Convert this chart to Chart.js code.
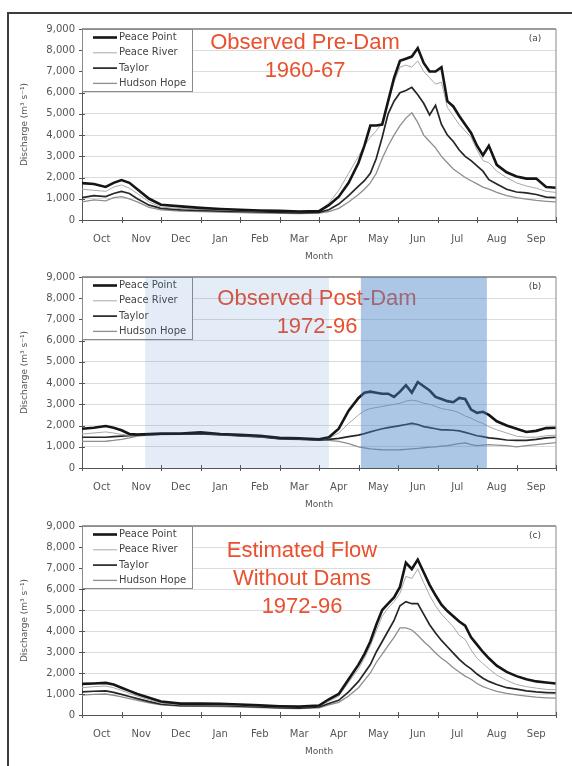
<!DOCTYPE html>
<html>
<head>
<meta charset="utf-8">
<script src="https://cdn.jsdelivr.net/npm/chart.js@4/dist/chart.umd.min.js"></script>
<style>
    body { margin: 0; background: #fff; width: 572px; height: 766px; overflow: hidden; position: relative; }
    .frame { position: absolute; left: 7px; top: 12px; width: 600px; height: 800px;
             border-top: 2px solid #3c3c3c; border-left: 2px solid #3c3c3c; }
    .panel { position: absolute; left: 0; width: 572px; }
</style>
</head>
<body>
<div class="frame"></div>
<div class="panel" style="top:0px;height:264px"><canvas id="chartA"></canvas></div>
<div class="panel" style="top:264px;height:248px"><canvas id="chartB"></canvas></div>
<div class="panel" style="top:512px;height:254px"><canvas id="chartC"></canvas></div>

<script>
// Data (x = months since 1 October)
const months = ['Oct', 'Nov', 'Dec', 'Jan', 'Feb', 'Mar', 'Apr', 'May', 'Jun', 'Jul', 'Aug', 'Sep'];
const stations = ['Peace Point', 'Peace River', 'Taylor', 'Hudson Hope'];
const yTicks = [0, 1000, 2000, 3000, 4000, 5000, 6000, 7000, 8000, 9000];

const monthPos = [0, 0.3, 0.6, 0.8, 1.0, 1.2, 1.4, 1.7, 2.0, 2.5, 3.0, 3.5, 4.0, 4.5, 5.0, 5.5, 6.0,
    6.25, 6.5, 6.75, 7.0, 7.15, 7.3, 7.45, 7.6, 7.75, 7.9, 8.05, 8.2, 8.35, 8.5, 8.65, 8.8, 8.95,
    9.1, 9.25, 9.4, 9.55, 9.7, 9.85, 10.0, 10.15, 10.3, 10.5, 10.75, 11.0, 11.25, 11.5, 11.75, 12.0];

// (a) observed pre-dam 1960-67
const preDamPeacePoint = [1740, 1700, 1560, 1750, 1880, 1750, 1450, 1000, 720, 640, 570, 520, 480, 450, 430, 400, 420,
    700, 1100, 1750, 2700, 3500, 4450, 4450, 4500, 5600, 6700, 7500, 7600, 7700, 8100, 7400, 7000, 7000,
    7200, 5600, 5350, 4900, 4500, 4100, 3500, 3050, 3500, 2600, 2250, 2050, 1950, 1950, 1550, 1520];
const preDamPeaceRiver = [1450, 1400, 1350, 1550, 1650, 1500, 1250, 850, 600, 540, 500, 470, 440, 420, 400, 380, 420,
    800, 1400, 2200, 3000, 3500, 3900, 4200, 4600, 5500, 6500, 7200, 7300, 7200, 7500, 7000, 6700, 6400,
    6500, 5300, 4900, 4500, 4200, 3900, 3300, 2800, 2700, 2300, 2000, 1750, 1600, 1500, 1350, 1300];
const preDamTaylor = [1050, 1150, 1100, 1250, 1350, 1250, 1000, 700, 550, 480, 450, 420, 400, 380, 360, 340, 360,
    480, 750, 1150, 1600, 1850, 2200, 2900, 3900, 5000, 5600, 6000, 6100, 6250, 5900, 5500, 4950, 5400,
    4500, 4000, 3700, 3300, 3000, 2800, 2550, 2300, 1900, 1700, 1450, 1320, 1280, 1200, 1080, 1050];
const preDamHudsonHope = [850, 950, 900, 1050, 1100, 1000, 850, 600, 480, 420, 390, 370, 350, 330, 310, 300, 320,
    400, 550, 850, 1200, 1450, 1750, 2200, 2900, 3500, 4000, 4450, 4800, 5050, 4600, 4000, 3700, 3400,
    3000, 2700, 2400, 2200, 2000, 1850, 1700, 1550, 1450, 1300, 1150, 1050, 980, 920, 880, 850];

// (b) observed post-dam 1972-96
const postDamPeacePoint = [1850, 1900, 1980, 1900, 1780, 1600, 1580, 1600, 1620, 1620, 1680, 1600, 1560, 1520, 1420, 1400, 1350,
    1450, 1850, 2700, 3300, 3550, 3600, 3550, 3500, 3500, 3350, 3600, 3900, 3550, 4050, 3850, 3650, 3350,
    3250, 3150, 3100, 3300, 3250, 2750, 2600, 2650, 2500, 2200, 2000, 1850, 1700, 1750, 1880, 1900];
const postDamPeaceRiver = [1600, 1650, 1700, 1650, 1580, 1550, 1560, 1580, 1600, 1600, 1650, 1580, 1530, 1480, 1400, 1380, 1330,
    1400, 1650, 2100, 2500, 2700, 2800, 2850, 2900, 2950, 3000, 3050, 3150, 3200, 3150, 3050, 3000, 2900,
    2800, 2750, 2700, 2600, 2450, 2350, 2200, 2100, 1950, 1800, 1650, 1500, 1450, 1450, 1520, 1550];
const postDamTaylor = [1450, 1450, 1450, 1480, 1500, 1520, 1550, 1570, 1590, 1600, 1620, 1570, 1520, 1480, 1380, 1360, 1320,
    1350, 1400, 1480, 1550, 1620, 1700, 1780, 1850, 1900, 1950, 2000, 2050, 2100, 2050, 1950, 1900, 1850,
    1800, 1800, 1780, 1750, 1680, 1600, 1520, 1480, 1420, 1380, 1320, 1300, 1300, 1350, 1420, 1450];
const postDamHudsonHope = [1250, 1250, 1260, 1300, 1350, 1420, 1500, 1550, 1570, 1580, 1600, 1550, 1500, 1450, 1360, 1340, 1300,
    1300, 1250, 1150, 1000, 950, 900, 880, 860, 850, 850, 860, 880, 900, 920, 950, 980, 1000,
    1030, 1050, 1100, 1150, 1180, 1100, 1050, 1080, 1100, 1080, 1050, 1000, 1050, 1100, 1150, 1200];

// (c) estimated flow without dams 1972-96
const noDamPeacePoint = [1480, 1500, 1530, 1450, 1300, 1150, 1000, 820, 640, 540, 540, 530, 500, 460, 420, 400, 450,
    750, 1000, 1700, 2400, 2900, 3500, 4300, 5000, 5300, 5600, 6100, 7250, 6950, 7400, 6800, 6200, 5700,
    5250, 4950, 4700, 4450, 4250, 3700, 3350, 3000, 2700, 2350, 2050, 1850, 1700, 1600, 1550, 1500];
const noDamPeaceRiver = [1300, 1350, 1380, 1300, 1170, 1030, 900, 720, 560, 480, 480, 470, 450, 410, 380, 360, 420,
    650, 900, 1550, 2200, 2700, 3300, 4000, 4700, 5100, 5400, 5800, 6600, 6500, 6950, 6300, 5700, 5200,
    4800, 4500, 4200, 3800, 3600, 3100, 2700, 2450, 2200, 1900, 1650, 1450, 1350, 1280, 1220, 1200];
const noDamTaylor = [1100, 1130, 1150, 1080, 980, 880, 780, 640, 520, 450, 450, 440, 420, 380, 350, 330, 380,
    550, 700, 1100, 1600, 2000, 2400, 3000, 3500, 4000, 4500, 5200, 5400, 5300, 5300, 4800, 4300, 3900,
    3550, 3250, 2950, 2650, 2400, 2200, 1950, 1750, 1600, 1450, 1300, 1230, 1150, 1100, 1070, 1050];
const noDamHudsonHope = [950, 980, 1000, 940, 860, 780, 700, 580, 480, 420, 410, 400, 380, 350, 320, 300, 340,
    480, 600, 900, 1300, 1650, 2000, 2500, 2900, 3300, 3700, 4150, 4150, 4050, 3800, 3500, 3250, 2950,
    2700, 2500, 2250, 2050, 1850, 1700, 1500, 1350, 1250, 1120, 1030, 960, 900, 850, 820, 800];

// shaded periods in panel (b), in months since 1 October
const shadeWinter = [1.6, 6.25];
const shadeSummer = [7.06, 10.25];

const titleA = ['Observed Pre-Dam', '1960-67'];
const titleB = ['Observed Post-Dam', '1972-96'];
const titleC = ['Estimated Flow', 'Without Dams', '1972-96'];

// Styles
const FONT = '"DejaVu Sans", sans-serif';
const lineStyles = [
    { color: '#151515', width: 2.6 },
    { color: '#a8a8a8', width: 1 },
    { color: '#262626', width: 1.7 },
    { color: '#8e8e8e', width: 1.3 },
];

function seg(ctx, x1, y1, x2, y2) {
    ctx.beginPath();
    ctx.moveTo(x1, y1);
    ctx.lineTo(x2, y2);
    ctx.stroke();
}

// Panel decorations: frame, cross ticks, legend box, titles, shading
const panelDecor = {
    id: 'panelDecor',
    afterDraw(chart) {
        const o = chart.options.plugins.panelDecor;
        const { ctx, chartArea: a } = chart;
        const xs = chart.scales.x, ys = chart.scales.y;
        ctx.save();

        // gray top / right edge of plot
        ctx.strokeStyle = '#9c9c9c';
        ctx.lineWidth = 2;
        seg(ctx, a.left, a.top, a.right, a.top);
        ctx.lineWidth = 1.2;
        seg(ctx, a.right, a.top, a.right, a.bottom);

        // cross tick marks
        ctx.strokeStyle = '#555';
        ctx.lineWidth = 1;
        for (let m = 0; m <= months.length; m++) {
            const px = Math.round(xs.getPixelForValue(m)) + 0.5;
            seg(ctx, px, a.bottom - 3, px, a.bottom + 3);
        }
        yTicks.forEach(v => {
            const py = Math.round(ys.getPixelForValue(v)) + 0.5;
            seg(ctx, a.left - 3, py, a.left + 3, py);
        });

        // legend box
        const lw = 111, lh = 63;
        ctx.fillStyle = '#fff';
        ctx.fillRect(a.left, a.top, lw, lh);
        ctx.strokeStyle = '#8a8a8a';
        ctx.lineWidth = 1;
        ctx.strokeRect(a.left + 0.5, a.top + 0.5, lw - 1, lh - 1);
        ctx.font = '10px ' + FONT;
        ctx.textAlign = 'left';
        ctx.textBaseline = 'middle';
        chart.data.datasets.forEach((ds, i) => {
            const yy = a.top + 8.5 + i * 15.3;
            ctx.strokeStyle = ds.borderColor;
            ctx.lineWidth = ds.borderWidth;
            seg(ctx, a.left + 11, yy, a.left + 35, yy);
            ctx.fillStyle = '#444';
            ctx.fillText(ds.label, a.left + 37, yy);
        });

        // red title
        ctx.fillStyle = '#e8502e';
        ctx.font = '22px "Liberation Sans", Arial, sans-serif';
        ctx.textAlign = 'center';
        o.title.forEach((t, i) => ctx.fillText(t, o.titleX, a.top + o.titleY + i * 28));

        // panel letter
        ctx.fillStyle = '#444';
        ctx.font = '9px ' + FONT;
        ctx.fillText(o.letter, a.right - 21, a.top + 10);

        // axis titles
        ctx.fillStyle = '#555';
        ctx.fillText('Month', (a.left + a.right) / 2, a.bottom + 37);
        ctx.save();
        ctx.translate(25, (a.top + a.bottom) / 2);
        ctx.rotate(-Math.PI / 2);
        ctx.fillText('Discharge (m\u00B3 s\u207B\u00B9)', 0, 0);
        ctx.restore();

        // shaded periods drawn over everything in the plot
        o.shades.forEach(s => {
            const x1 = xs.getPixelForValue(s.range[0]);
            const x2 = xs.getPixelForValue(s.range[1]);
            ctx.fillStyle = s.color;
            ctx.fillRect(x1, a.top, x2 - x1, a.bottom - a.top);
        });

        ctx.restore();
    }
};

function makeDatasets(seriesList) {
    return seriesList.map((vals, i) => ({
        label: stations[i],
        data: monthPos.map((m, j) => ({ x: m, y: vals[j] })),
        borderColor: lineStyles[i].color,
        borderWidth: lineStyles[i].width,
        pointRadius: 0,
        tension: 0,
        fill: false,
    }));
}

function drawPanel(canvasId, seriesList, plotTop, axisHeight, decor) {
    const ctx = document.getElementById(canvasId).getContext('2d');
    new Chart(ctx, {
        type: 'line',
        data: { datasets: makeDatasets(seriesList) },
        plugins: [panelDecor],
        options: {
            responsive: true,
            maintainAspectRatio: false,
            animation: false,
            layout: { padding: { top: plotTop, right: 16, left: 0, bottom: 0 } },
            plugins: {
                legend: { display: false },
                tooltip: { enabled: false },
                panelDecor: decor,
            },
            scales: {
                x: {
                    type: 'linear',
                    min: 0,
                    max: 12,
                    afterFit: s => { s.height = axisHeight; },
                    grid: { display: false, drawTicks: false },
                    border: { display: true, color: '#555', width: 1 },
                    ticks: {
                        stepSize: 1,
                        autoSkip: false,
                        maxRotation: 0,
                        labelOffset: 19.75,
                        padding: 13,
                        color: '#555',
                        font: { family: FONT, size: 10 },
                        callback: v => months[v] || '',
                    },
                },
                y: {
                    min: 0,
                    max: 9000,
                    afterFit: s => { s.width = 82; },
                    afterBuildTicks: s => { s.ticks = yTicks.map(v => ({ value: v })); },
                    grid: { color: '#dcdcdc', lineWidth: 1, drawTicks: false },
                    border: { display: true, color: '#555', width: 1 },
                    ticks: {
                        padding: 7,
                        color: '#555',
                        font: { family: FONT, size: 10 },
                        callback: v => String(v).replace(/\B(?=(\d{3})+(?!\d))/g, ','),
                    },
                },
            },
        },
    });
}

// Initialize
window.onload = () => {
    drawPanel('chartA', [preDamPeacePoint, preDamPeaceRiver, preDamTaylor, preDamHudsonHope], 29, 44,
        { title: titleA, titleX: 305, titleY: 14, letter: '(a)', shades: [] });
    drawPanel('chartB', [postDamPeacePoint, postDamPeaceRiver, postDamTaylor, postDamHudsonHope], 13, 44,
        { title: titleB, titleX: 317, titleY: 22, letter: '(b)', shades: [
            { range: shadeWinter, color: 'rgba(70, 130, 200, 0.15)' },
            { range: shadeSummer, color: 'rgba(70, 130, 200, 0.45)' },
        ] });
    drawPanel('chartC', [noDamPeacePoint, noDamPeaceRiver, noDamTaylor, noDamHudsonHope], 14, 51,
        { title: titleC, titleX: 302, titleY: 25, letter: '(c)', shades: [] });
};
</script>
</body>
</html>
